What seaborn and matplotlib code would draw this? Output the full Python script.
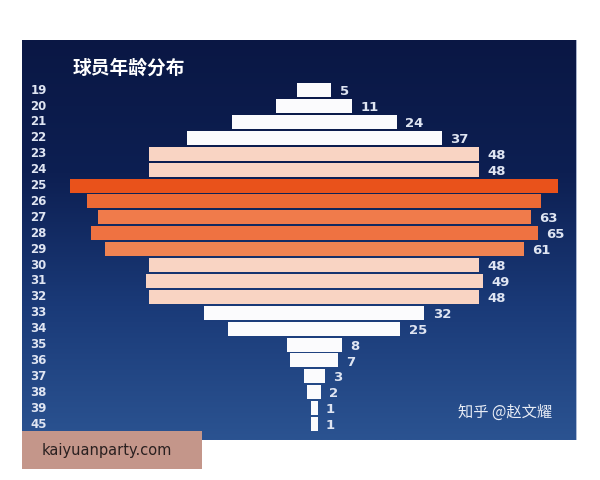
import numpy as np
import pandas as pd
import matplotlib.pyplot as plt
import seaborn as sns
from matplotlib.patches import Rectangle
from matplotlib.colors import LinearSegmentedColormap

# Data
ages = ['19', '20', '21', '22', '23', '24', '25', '26', '27', '28', '29',
        '30', '31', '32', '33', '34', '35', '36', '37', '38', '39', '45']
counts = [5, 11, 24, 37, 48, 48, 71, 66, 63, 65, 61,
          48, 49, 48, 32, 25, 8, 7, 3, 2, 1, 1]
shown = [True] * 6 + [False, False] + [True] * 14


def bar_color(v):
    if v < 40:
        return '#fbfbfd'
    if v < 55:
        return '#f9d4c3'
    if v >= 70:
        return '#e9521b'
    if v >= 66:
        return '#ee6a35'
    if v >= 64:
        return '#ef7241'
    if v >= 62:
        return '#f07b4b'
    return '#f08352'


df = pd.DataFrame({'age': ages, 'count': counts})
df['half'] = df['count'] / 2
palette = [bar_color(v) for v in counts]

sns.set_style('white')
plt.rcParams['font.family'] = ['Noto Sans CJK SC', 'DejaVu Sans']

fig = plt.figure(figsize=(6, 4.8), dpi=100)
ax = fig.add_axes([22 / 600, 40 / 480, 555 / 600, 400 / 480])

# background gradient of the panel
bg = LinearSegmentedColormap.from_list('bg', ['#0a1744', '#0d1f52', '#1a3a78', '#2b5391'])
grad = np.linspace(0, 1, 256).reshape(-1, 1)
ax.imshow(grad, cmap=bg, aspect='auto', extent=[0, 1, 0, 1],
          transform=ax.transAxes, zorder=0, origin='upper')

# centred bars: left and right halves
sns.barplot(data=df, x='half', y='age', hue='age', palette=palette, legend=False,
            orient='h', width=0.88, linewidth=0, saturation=1, ax=ax, zorder=2)
df['neg'] = -df['half']
sns.barplot(data=df, x='neg', y='age', hue='age', palette=palette, legend=False,
            orient='h', width=0.88, linewidth=0, saturation=1, ax=ax, zorder=2)

ax.set_xlim(-42.5, 38.2)
ax.set_ylim(22.0, -3.15)
ax.set_xticks([])
ax.set_yticks([])
ax.set_xlabel('')
ax.set_ylabel('')
for s in ax.spines.values():
    s.set_visible(False)

for i, (a, v, sh) in enumerate(zip(ages, counts, shown)):
    ax.text(-41.3, i, a, color='#dfe5f2', fontsize=8.5, fontweight='bold',
            va='center', ha='left', family='DejaVu Sans', zorder=3)
    if sh:
        ax.text(v / 2 + 1.2, i + 0.1, str(v), color='#dfe5f2', fontsize=9.5,
                fontweight='bold', va='center', ha='left', family='DejaVu Sans', zorder=3)

ax.text(7.3 - 42.5, -1.4, '球员年龄分布', color='white', fontsize=13.5,
        fontweight='bold', va='center', ha='left', zorder=3)

ax.text(0.785, 0.07, '知乎 @赵文耀', color='#e8ecf5', fontsize=11,
        transform=ax.transAxes, va='center', ha='left', zorder=3)

# right border line of the panel
ax.axvline(38.2, color='#c8d2e6', lw=1.2, zorder=4)

# site stamp
fig.patches.append(Rectangle((22 / 600, 1 - 469 / 480), 180 / 600, 38 / 480,
                             transform=fig.transFigure, facecolor='#c4968a',
                             edgecolor='none', zorder=5))
fig.text(42 / 600, 1 - 450 / 480, 'kaiyuanparty.com', color='#2a2020',
         fontsize=10.5, va='center', ha='left', family='DejaVu Sans', zorder=6)

fig.savefig('out.png', dpi=100, facecolor='white')
